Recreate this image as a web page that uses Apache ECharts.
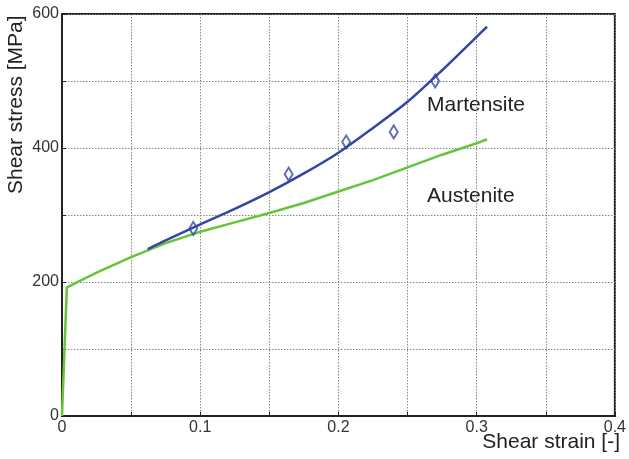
<!DOCTYPE html>
<html>
<head>
<meta charset="utf-8">
<script src="https://cdn.jsdelivr.net/npm/echarts@6/dist/echarts.min.js"></script>
<style>html,body{margin:0;padding:0;background:#fff}#c{width:629px;height:459px}</style>
</head>
<body>
<div id="c"></div>
<script>
var austeniteX = [0, 0.0035, 0.025, 0.05, 0.075, 0.1, 0.125, 0.15, 0.175, 0.2, 0.225, 0.25, 0.275, 0.3, 0.3075];
var austeniteY = [0, 192, 214, 237, 258, 275, 289, 303, 318, 335, 352, 371, 390, 407, 413];
var martensiteX = [0.062, 0.075, 0.1, 0.125, 0.15, 0.175, 0.2, 0.225, 0.25, 0.275, 0.3, 0.3075];
var martensiteY = [249, 262, 286, 309, 334, 362, 393, 430, 469, 516, 566, 581];
var expX = [0.095, 0.164, 0.2056, 0.24, 0.27];
var expY = [280, 361, 409, 424, 500];
var xTickLabels = ['0', '0.1', '0.2', '0.3', '0.4'];
var yTickLabels = ['0', '200', '400', '600'];

function zip(a, b) { return a.map(function (v, i) { return [v, b[i]]; }); }

var FONT = 'Liberation Sans, Arial, sans-serif';
var chart = echarts.init(document.getElementById('c'), null, {renderer: 'canvas'});
chart.setOption({
  animation: false,
  grid: {left: 62, right: 10, top: 14, bottom: 43, show: true, borderColor: '#222', borderWidth: 2, backgroundColor: '#fff'},
  xAxis: {
    type: 'value', min: 0, max: 0.4, interval: 0.05,
    axisLine: {show: true, lineStyle: {color: '#222', width: 2}},
    axisTick: {show: true, inside: true, length: 4, lineStyle: {color: '#222'}},
    splitLine: {show: true, lineStyle: {color: '#888', type: [1.5, 1.5], width: 1}},
    axisLabel: {
      color: '#333', fontSize: 16, fontFamily: FONT, margin: 4, showMaxLabel: true, showMinLabel: true,
      formatter: function (v) {
        var k = Math.round(v * 10);
        return Math.abs(v * 10 - k) < 1e-6 ? xTickLabels[k] : '';
      }
    }
  },
  yAxis: {
    type: 'value', min: 0, max: 600, interval: 100,
    axisLine: {show: true, lineStyle: {color: '#222', width: 2}},
    axisTick: {show: true, inside: true, length: 4, lineStyle: {color: '#222'}},
    splitLine: {show: true, lineStyle: {color: '#888', type: [1.5, 1.5], width: 1}},
    axisLabel: {
      color: '#333', fontSize: 16, fontFamily: FONT, margin: 3, showMaxLabel: true, showMinLabel: true,
      formatter: function (v) {
        var k = Math.round(v / 200);
        return Math.abs(v / 200 - k) < 1e-6 ? yTickLabels[k] : '';
      }
    }
  },
  series: [
    {name: 'Austenite', type: 'line', data: zip(austeniteX, austeniteY), showSymbol: false, symbol: 'none',
     lineStyle: {color: '#66c43a', width: 2.5}, z: 3},
    {name: 'Martensite', type: 'line', data: zip(martensiteX, martensiteY), showSymbol: false, symbol: 'none', smooth: 0.3,
     lineStyle: {color: '#3446a0', width: 2.5}, z: 4},
    {name: 'Experiment', type: 'scatter', data: zip(expX, expY), symbol: 'diamond', symbolSize: [8, 13],
     itemStyle: {color: 'rgba(255,255,255,0)', borderColor: '#3446a0', borderWidth: 2}, z: 5}
  ],
  graphic: [
    {type: 'text', left: 427, top: 95, style: {text: 'Martensite', fontSize: 21, fontFamily: FONT, fill: '#222'}},
    {type: 'text', left: 427, top: 186, style: {text: 'Austenite', fontSize: 21, fontFamily: FONT, fill: '#222'}},
    {type: 'text', right: 9, top: 432, style: {text: 'Shear strain [-]', fontSize: 21, fontFamily: FONT, fill: '#222'}},
    {type: 'text', x: 6, y: 194, rotation: Math.PI / 2, style: {text: 'Shear stress [MPa]', fontSize: 21, fontFamily: FONT, fill: '#222', textAlign: 'left', textVerticalAlign: 'top'}}
  ]
});
</script>
</body>
</html>
